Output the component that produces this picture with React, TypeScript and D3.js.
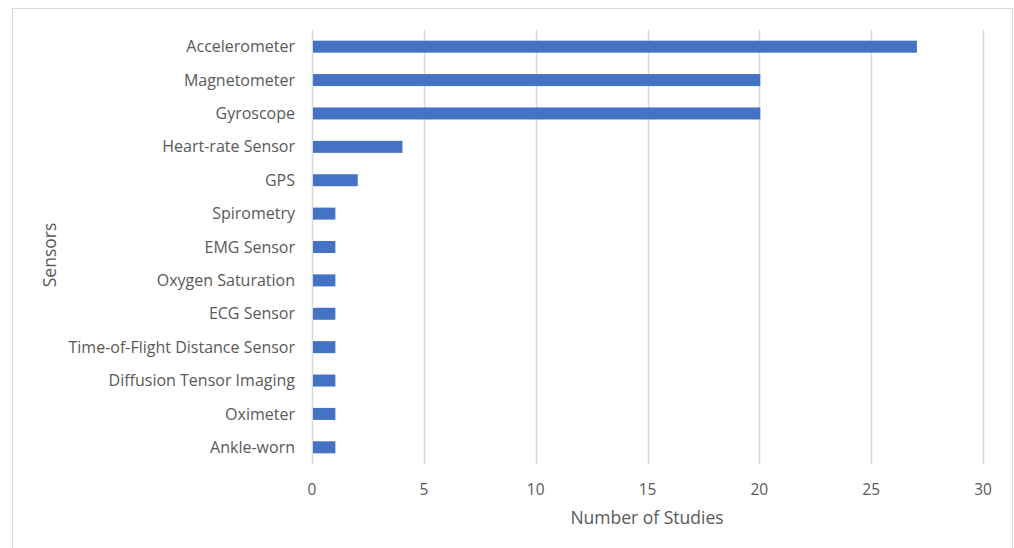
import { useEffect, useRef } from "react";
import * as d3 from "d3";

const sensors = [
  "Accelerometer",
  "Magnetometer",
  "Gyroscope",
  "Heart-rate Sensor",
  "GPS",
  "Spirometry",
  "EMG Sensor",
  "Oxygen Saturation",
  "ECG Sensor",
  "Time-of-Flight Distance Sensor",
  "Diffusion Tensor Imaging",
  "Oximeter",
  "Ankle-worn",
];
const studies = [27, 20, 20, 4, 2, 1, 1, 1, 1, 1, 1, 1, 1];
const xTicks = [0, 5, 10, 15, 20, 25, 30];

const W = 1014;
const H = 548;
const FONT = "'Open Sans', 'DejaVu Sans', sans-serif";
const TEXT = "#595959";

export default function App() {
  const svgRef = useRef<SVGSVGElement>(null);

  useEffect(() => {
    if (!svgRef.current) return;
    const svg = d3.select(svgRef.current);
    svg.selectAll("*").remove();

    const margin = { top: 30, right: 31, bottom: 84, left: 312 };
    const width = W - margin.left - margin.right;
    const height = H - margin.top - margin.bottom;

    // chart frame
    svg
      .append("rect")
      .attr("x", 12.5)
      .attr("y", 8.5)
      .attr("width", 1000)
      .attr("height", 560)
      .attr("fill", "#fff")
      .attr("stroke", "#d9d9d9");

    const g = svg
      .append("g")
      .attr("transform", `translate(${margin.left},${margin.top})`);

    const x = d3.scaleLinear().domain([0, 30]).range([0, width]);
    const y = d3
      .scaleBand()
      .domain(sensors)
      .range([0, height])
      .paddingInner(0.64)
      .paddingOuter(0.32);

    // gridlines
    g.selectAll("line.grid")
      .data(xTicks)
      .join("line")
      .attr("class", "grid")
      .attr("x1", (d) => Math.round(x(d)) + 0.5)
      .attr("x2", (d) => Math.round(x(d)) + 0.5)
      .attr("y1", 0)
      .attr("y2", height)
      .attr("stroke", "#d9d9d9")
      .attr("stroke-width", 1.5);

    // tick labels
    g.selectAll("text.xtick")
      .data(xTicks)
      .join("text")
      .attr("class", "xtick")
      .attr("x", (d) => x(d))
      .attr("y", height + 31)
      .attr("text-anchor", "middle")
      .style("font-family", FONT)
      .style("font-size", "15.5px")
      .style("fill", TEXT)
      .text((d) => d);

    // bars
    g.selectAll("rect.bar")
      .data(studies)
      .join("rect")
      .attr("class", "bar")
      .attr("x", x(0) + 1)
      .attr("y", (_, i) => y(sensors[i]) ?? 0)
      .attr("width", (d) => x(d) - x(0))
      .attr("height", y.bandwidth())
      .attr("fill", "#4472C4");

    // category labels
    g.selectAll("text.ylab")
      .data(sensors)
      .join("text")
      .attr("class", "ylab")
      .attr("x", -17)
      .attr("y", (d) => (y(d) ?? 0) + y.bandwidth() / 2)
      .attr("dy", "0.35em")
      .attr("text-anchor", "end")
      .style("font-family", FONT)
      .style("font-size", "16px")
      .style("fill", TEXT)
      .text((d) => d);

    // axis titles
    svg
      .append("text")
      .attr("x", 647)
      .attr("y", 524)
      .attr("text-anchor", "middle")
      .style("font-family", FONT)
      .style("font-size", "17.5px")
      .style("fill", TEXT)
      .text("Number of Studies");

    svg
      .append("text")
      .attr("transform", "rotate(-90)")
      .attr("x", -255)
      .attr("y", 56)
      .attr("text-anchor", "middle")
      .style("font-family", FONT)
      .style("font-size", "17.5px")
      .style("fill", TEXT)
      .text("Sensors");
  }, []);

  return (
    <svg
      ref={svgRef}
      width={W}
      height={H}
      style={{ position: "absolute", left: 0, top: 0, background: "#fff" }}
    />
  );
}
